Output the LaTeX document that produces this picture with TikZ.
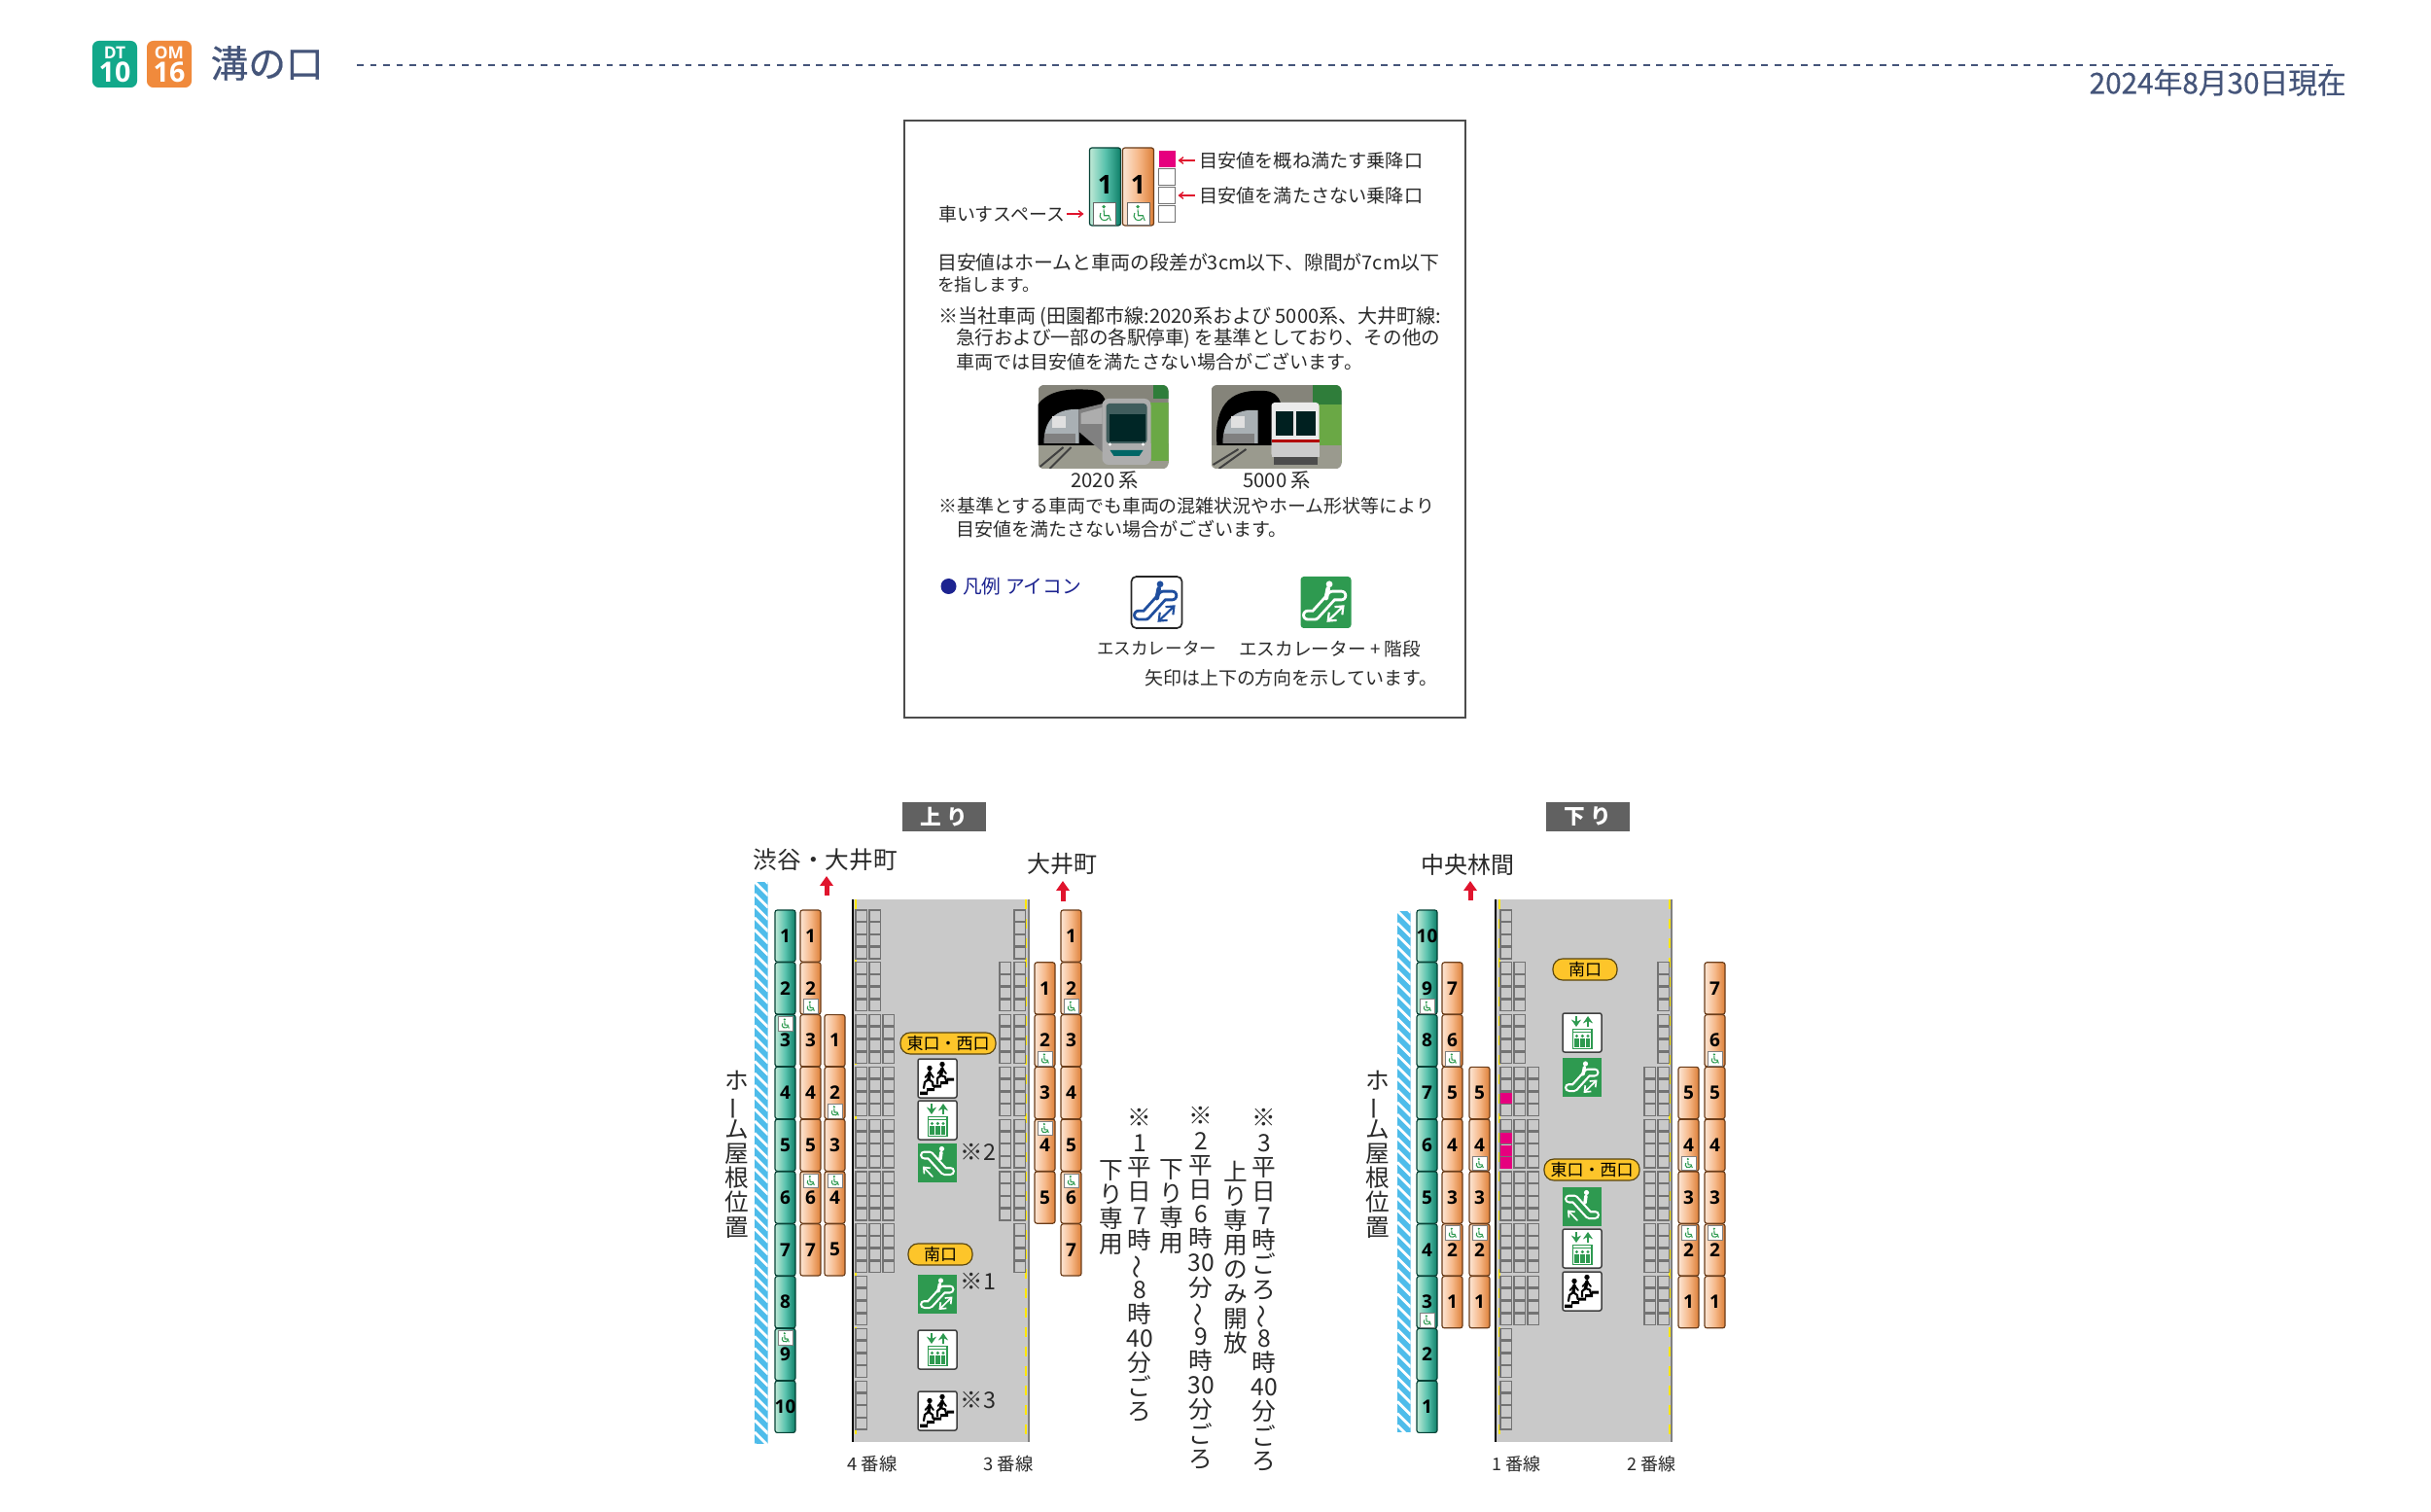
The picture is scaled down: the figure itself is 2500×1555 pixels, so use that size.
\documentclass[tikz,border=0pt]{standalone}
\usepackage{fontspec}
\setmainfont{Noto Sans CJK JP}
\newfontfamily\numfont{Open Sans}
\newfontfamily\medfont{Noto Sans CJK JP}[FakeBold=0.5]
\usetikzlibrary{arrows.meta}
\definecolor{hdr}{HTML}{45557A}
\definecolor{tk}{HTML}{2A2A2A}
\definecolor{dtg}{HTML}{12A88A}
\definecolor{omo}{HTML}{F08A3C}
\definecolor{grn}{HTML}{2E9A50}
\definecolor{blu}{HTML}{1F4E9E}
\definecolor{navy}{HTML}{1C2390}
\definecolor{rd}{HTML}{E0142D}
\definecolor{pnk}{HTML}{E6007E}
\definecolor{plat}{HTML}{C9C9C9}
\definecolor{band}{HTML}{4EBCEA}
\definecolor{ylw}{HTML}{FDC52A}
\definecolor{wallc}{HTML}{85847A}
\definecolor{gndc}{HTML}{9A9A8E}
\definecolor{leaf}{HTML}{6AA845}
\definecolor{leafd}{HTML}{2F7D3A}
\definecolor{silv}{HTML}{A9B0B4}
\newcommand\wfit[2]{\resizebox{\dimexpr #1pt*3/10\relax}{!}{#2}}
\newcommand\tld{\makebox[1em]{\smash{\rotatebox[origin=c]{90}{～}}}}
\newcommand\vbar{\makebox[1em]{\smash{\rotatebox[origin=c]{90}{ー}}}}
\tikzset{
  x=0.3pt,y=-0.3pt,
  txt/.style={inner sep=0,text=tk,font=\fontsize{6pt}{7pt}\selectfont},
  vtxt/.style={inner sep=0,text=tk,align=center,anchor=north,font=\fontsize{7.4pt}{7.55pt}\selectfont},
  carnum/.style={inner sep=0,text=black,font=\numfont\bfseries\fontsize{5.7pt}{6pt}\selectfont},
  gcar/.style={left color=green!30!teal!25!white,right color=dtg!75!black,middle color=dtg!70!white,draw=black!60!dtg,line width=0.35pt,rounded corners=0.7pt},
  ocar/.style={left color=omo!22!white,right color=omo!92!black,middle color=omo!60!white,draw=black!55!omo,line width=0.35pt,rounded corners=0.7pt},
  door/.style={draw=black!55,fill=plat,line width=0.4pt},
  pill/.style={draw=black!65!ylw,fill=ylw,line width=0.35pt,rounded corners=3pt,inner sep=0,text=black,font=\fontsize{5.1pt}{6pt}\selectfont},
  dirbox/.style={fill=black!62,text=white,inner sep=0,minimum width=25.8pt,minimum height=9pt,font=\bfseries\fontsize{6.5pt}{7pt}\selectfont},
  redup/.style={draw=rd,line width=1.5pt,-{Triangle[length=3pt,width=4pt]}},
  redthin/.style={draw=rd,line width=0.4pt,-{Straight Barb[length=1.3pt,width=2pt]}},
  iconbox/.style={fill=white,draw=black!75,line width=0.45pt,rounded corners=0.6pt},
  smallnote/.style={inner sep=0,text=tk,font=\fontsize{7pt}{8pt}\selectfont},
}
% wheelchair symbol, local 14x14
\newcommand\wcsym[3]{\begin{scope}[shift={(#1,#2)},xscale=#3,yscale=#3]
  \fill[grn] (6.3,2.6) circle[radius=1.2];
  \draw[grn,line width=0.32pt] (6.3,4.3)--(6.6,8.3)--(9.6,8.3)--(10.8,11.6);
  \draw[grn,line width=0.32pt] (4.3,6.6) arc[start angle=215,end angle=30,radius=3];
\end{scope}}
\newcommand\carcol[3]{\foreach \rw/\nm/\wc in {#3}{
  \shadedraw[#1] (#2,{936+53.8*\rw}) rectangle ++(21,53.2);
  \node[carnum] at ({#2+10.5},{936+53.8*\rw+26.5}) {\nm};
  \if\wc b
    \fill[white] ({#2+3},{936+53.8*\rw+38}) rectangle ++(15,14.5);
    \draw[black!50,line width=0.2pt] ({#2+3},{936+53.8*\rw+38}) rectangle ++(15,14.5);
    \wcsym{#2+3.5}{936+53.8*\rw+38.3}{1}
  \fi
  \if\wc t
    \fill[white] ({#2+3},{936+53.8*\rw+2}) rectangle ++(15,14.5);
    \draw[black!50,line width=0.2pt] ({#2+3},{936+53.8*\rw+2}) rectangle ++(15,14.5);
    \wcsym{#2+3.5}{936+53.8*\rw+2.3}{1}
  \fi
}}
\newcommand\doorcol[3]{\foreach \rw in {#2,...,#3}{\foreach \jj in {0,...,3}{
  \draw[door] (#1,{936+53.8*\rw+12.8*\jj}) rectangle ++(11.5,11.5);}}}
\newcommand\hatch[3]{\begin{scope}
  \clip (#1,#2) rectangle ++(13.5,#3);
  \fill[band] (#1,#2) rectangle ++(13.5,#3);
  \foreach \k in {-1,...,48}{\draw[white,line width=0.85pt] (#1,{#2+12.3*\k}) -- ++(14,14);}
\end{scope}}
\newcommand\stairsicon[2]{\begin{scope}[shift={(#1,#2)}]
  \draw[iconbox] (0,0) rectangle (40,40);
  \fill[black] (2,37)--(2,33.5)--(9,33.5)--(9,30)--(16,30)--(16,26.5)--(23,26.5)--(23,23)--(30,23)--(30,19.5)--(37,19.5)--(37,22.5)--(31,22.5)--(31,26)--(24,26)--(24,29.5)--(17,29.5)--(17,33)--(10,33)--(10,37)--cycle;
  \begin{scope}[line cap=round,line join=round]
  \fill (12,9.5) circle[radius=2.7];
  \draw[line width=1pt] (12,13.5)--(11,21);
  \draw[line width=0.65pt] (11,21)--(7,24)--(6,30) (11,21)--(15,24)--(15.5,28);
  \draw[line width=0.55pt] (12,14)--(7.5,19) (12,14)--(16,19);
  \fill (25,5.5) circle[radius=2.7];
  \draw[line width=1pt] (25,9.5)--(23.5,17);
  \draw[line width=0.65pt] (23.5,17)--(20,20)--(20,25.5) (23.5,17)--(28,18.5)--(29,22.5);
  \draw[line width=0.55pt] (25,10)--(20.5,15) (25,10)--(29,15);
  \end{scope}
\end{scope}}
\newcommand\elevicon[2]{\begin{scope}[shift={(#1,#2)}]
  \draw[iconbox] (0,0) rectangle (40,40);
  \draw[grn,line width=0.65pt,-{Stealth[length=2.2pt,width=3pt]}] (14,3)--(14,14);
  \draw[grn,line width=0.65pt,-{Stealth[length=2.2pt,width=3pt]}] (26,14)--(26,3);
  \draw[grn,line width=0.5pt] (10.5,16.5) rectangle (30,36.5);
  \draw[grn,line width=0.3pt] (10.5,19.5)--(30,19.5);
  \foreach \px in {14.5,20.3,26}{
    \fill[grn] (\px,23.5) circle[radius=1.7];
    \fill[grn] ({\px-2.3},25.5) rectangle ({\px+2.3},34.5);
  }
\end{scope}}
% #1 x #2 y #3 fg #4 inner #5 scale
\newcommand\escup[5]{\begin{scope}[shift={(#1,#2)},xscale=#5,yscale=#5,line cap=round,line join=round]
  \draw[#3,line width=2.7pt*#5] (6.5,30.5)--(12,30.5)--(26,15)--(33,15);
  \draw[#4,line width=1.35pt*#5] (6.5,30.5)--(12,30.5)--(26,15)--(33,15);
  \fill[#3] (23.5,6) circle[radius=2.6];
  \draw[#3,line width=1.05pt*#5] (22.5,9.5)--(21,17);
  \draw[#3,line width=0.5pt*#5,{Straight Barb[length=1.6pt*#5,width=2.6pt*#5]}-{Straight Barb[length=1.6pt*#5,width=2.6pt*#5]}] (21.5,36)--(35.5,22.5);
\end{scope}}
\newcommand\escdown[2]{\begin{scope}[shift={(#1,#2)},line cap=round,line join=round]
  \fill[grn] (0,0) rectangle (40,40);
  \draw[white,line width=2.7pt] (6.5,12)--(12,12)--(27,28.5)--(33.5,28.5);
  \draw[grn,line width=1.35pt] (6.5,12)--(12,12)--(27,28.5)--(33.5,28.5);
  \fill[white] (24.5,5.5) circle[radius=2.6];
  \draw[white,line width=1.05pt] (24,9)--(23,16);
  \draw[white,line width=0.5pt,-{Straight Barb[length=1.6pt,width=2.6pt]}] (15,34)--(5,23.5);
\end{scope}}
\newcommand\escgreen[2]{\fill[grn] (#1,#2) rectangle ++(40,40); \escup{#1}{#2}{white}{grn}{1}}
\newcommand\photoA[1]{\begin{scope}[shift={(#1,396)}]
  \begin{scope}
  \clip[rounded corners=1.8pt] (0,0) rectangle (134,86);
  \fill[wallc] (0,0) rectangle (134,86);
  \fill[leafd] (118,0) rectangle (134,14);
  \fill[leaf] (113,18) rectangle (134,80);
  \fill[gndc] (0,60) rectangle (134,86);
  \fill[leaf] (116,60) rectangle (134,78);
  \fill[black] (0,62) -- (0,20) .. controls (10,6) and (30,3) .. (55,5) .. controls (68,6) and (74,14) .. (73,62) -- cycle;
  \fill[silv] (6,60) .. controls (6,34) and (20,24) .. (42,25) -- (42,60) -- cycle;
  \fill[black!12] (14,32) rectangle (28,44);
  \fill[black!50] (6,50) rectangle (38,60);
  \fill[black!50] (42,25)--(67,19)--(70,72)--(42,48)--cycle;
  \fill[black!32] (44,29)--(66,23)--(66,40)--(44,40)--cycle;
  \draw[black!75,line width=0.6pt] (2,84)--(26,64) (12,86)--(34,64);
  \fill[black!32,rounded corners=2pt] (66,14) rectangle (116,82);
  \fill[black!55!teal!50!gray,rounded corners=1pt] (70,19) rectangle (112,60);
  \fill[black!70!teal] (73,30) rectangle (110,58);
  \fill[teal!80!black] (74,67)--(108,67)--(104,73)--(78,73)--cycle;
  \fill[white] (74,61) circle[radius=1.7] (108,61) circle[radius=1.7];
  \end{scope}
\end{scope}}
\newcommand\photoB[1]{\begin{scope}[shift={(#1,396)}]
  \begin{scope}
  \clip[rounded corners=1.8pt] (0,0) rectangle (134,86);
  \fill[wallc] (0,0) rectangle (134,86);
  \fill[leafd] (104,0) rectangle (134,20);
  \fill[leaf] (108,20) rectangle (134,80);
  \fill[gndc] (0,62) rectangle (134,86);
  \fill[black] (6,62) .. controls (2,15) and (25,4) .. (55,6) .. controls (72,7) and (76,20) .. (74,62) -- cycle;
  \fill[silv] (12,60) .. controls (12,34) and (26,24) .. (48,26) -- (48,60) -- cycle;
  \fill[black!12] (20,32) rectangle (34,44);
  \fill[black!50] (12,50) rectangle (44,60);
  \draw[black!75,line width=0.6pt] (2,82)--(28,66) (8,86)--(36,66);
  \fill[black!8,rounded corners=1pt] (62,18) rectangle (111,74);
  \fill[black!75!teal] (66,27) rectangle (107,52);
  \fill[black!10] (84,27) rectangle (87,52);
  \fill[red!70!black] (62,56) rectangle (111,59);
  \fill[black!70] (64,74) rectangle (109,82);
  \fill[black!20] (62,59) rectangle (111,74);
  \end{scope}
\end{scope}}
\begin{document}
\begin{tikzpicture}
\fill[white] (0,0) rectangle (2500,1555);
\useasboundingbox (0,0) rectangle (2500,1555);
% ---------- header
\fill[dtg,rounded corners=2pt] (95,42) rectangle (141,90);
\fill[omo,rounded corners=2pt] (151,42) rectangle (197,90);
\node[inner sep=0,text=white,font=\numfont\bfseries\fontsize{5.2pt}{6pt}\selectfont] (dt) at (118,54) {DT};
\node[inner sep=0,text=white,font=\numfont\bfseries\fontsize{8.6pt}{9pt}\selectfont] (dtn) at (118,74) {10};
\node[inner sep=0,text=white,font=\numfont\bfseries\fontsize{5.2pt}{6pt}\selectfont] (om) at (174,54) {OM};
\node[inner sep=0,text=white,font=\numfont\bfseries\fontsize{8.6pt}{9pt}\selectfont] (omn) at (174,74) {16};
\node[inner sep=0,text=hdr,font=\medfont\fontsize{11.6pt}{12pt}\selectfont,anchor=west] (title) at (216,65) {溝の口};
\coordinate (dashA) at (367,67);\coordinate (dashB) at (2400,67);
\draw[hdr,line width=0.85pt,dash pattern=on 2pt off 2.05pt] (dashA)--(dashB);
\node[inner sep=0,text=hdr,anchor=west] (date) at (2148,85) {\wfit{264}{\medfont 2024年8月30日現在}};
% ---------- legend
\draw[black!70,line width=0.5pt] (930,124) rectangle (1507,738);
\begin{scope}[shift={(-3.5,0)}]
\shadedraw[gcar] (1124,152) rectangle (1156,232);
\shadedraw[ocar] (1158,152) rectangle (1190,232);
\node[carnum,font=\numfont\bfseries\fontsize{8pt}{9pt}\selectfont] (lg1) at (1140,190) {1};
\node[carnum,font=\numfont\bfseries\fontsize{8pt}{9pt}\selectfont] (lo1) at (1174,190) {1};
\fill[white] (1128,208) rectangle (1151,231); \draw[black!60,line width=0.25pt] (1128,208) rectangle (1151,231);
\fill[white] (1163,208) rectangle (1186,231); \draw[black!60,line width=0.25pt] (1163,208) rectangle (1186,231);
\wcsym{1128.5}{208.5}{1.6}\wcsym{1163.5}{208.5}{1.6}
\fill[pnk] (1195,155) rectangle (1212,172);
\foreach \yy in {174,193,212}{\draw[black!55,line width=0.3pt] (1195,\yy) rectangle ++(17,17);}
\coordinate (ra1) at (1232,165);\coordinate (rb1) at (1215,165);
\coordinate (ra2) at (1232,201);\coordinate (rb2) at (1215,201);
\coordinate (ra3) at (1100,220);\coordinate (rb3) at (1118,220);
\draw[redthin] (ra1)--(rb1);\draw[redthin] (ra2)--(rb2);\draw[redthin] (ra3)--(rb3);
\node[txt,anchor=west] (l1) at (1236,165) {\wfit{230}{目安値を概ね満たす乗降口}};
\node[txt,anchor=west] (l2) at (1236,201) {\wfit{230}{目安値を満たさない乗降口}};
\node[txt,anchor=west] (l3) at (968,220) {\wfit{130}{車いすスペース}};
\node[txt,anchor=west] (p1) at (967,270) {\wfit{516}{目安値はホームと車両の段差が3cm以下、隙間が7cm以下}};
\node[txt,anchor=west] (p2) at (967,293) {\wfit{105}{を指します。}};
\node[txt,anchor=west] (p3) at (968,326) {\wfit{517}{※当社車両 (田園都市線:2020系および 5000系、大井町線:}};
\node[txt,anchor=west] (p4) at (986,348) {\wfit{498}{急行および一部の各駅停車) を基準としており、その他の}};
\node[txt,anchor=west] (p5) at (986,372) {\wfit{418}{車両では目安値を満たさない場合がございます。}};
\photoA{1071}\photoB{1249}
\node[txt,anchor=west] (c1) at (1104,494) {\wfit{70}{2020 系}};
\node[txt,anchor=west] (c2) at (1281,494) {\wfit{70}{5000 系}};
\node[txt,anchor=west] (p6) at (968,520) {\wfit{510}{※基準とする車両でも車両の混雑状況やホーム形状等により}};
\node[txt,anchor=west] (p7) at (986,544) {\wfit{340}{目安値を満たさない場合がございます。}};
\fill[navy] (979,603) circle[radius=8];
\node[txt,anchor=west,text=navy] (lgd) at (993,603) {\wfit{122}{凡例 アイコン}};
\draw[fill=white,draw=black!85,line width=0.5pt,rounded corners=1.5pt] (1167,593) rectangle (1219,646);
\escup{1166}{593}{blu}{white}{1.3}
\fill[grn,rounded corners=1pt] (1341,593) rectangle (1393,646);
\escup{1340}{593}{white}{grn}{1.3}
\node[txt,anchor=west] (e1) at (1131,667) {\wfit{123}{エスカレーター}};
\node[txt,anchor=west] (e2) at (1277,667) {\wfit{187}{エスカレーター + 階段}};
\node[txt,anchor=west] (e3) at (1180,697) {\wfit{301}{矢印は上下の方向を示しています。}};
\end{scope}
% ---------- left platform (up)
\node[dirbox] (up) at (971,840) {上 り};
\node[txt,anchor=west] (d1) at (774,884) {\wfit{148}{渋谷・大井町}};
\node[txt,anchor=west] (d2) at (1056,889) {\wfit{72}{大井町}};
\coordinate (au1) at (850,921);\coordinate (au2) at (850,901);
\coordinate (au3) at (1093,927);\coordinate (au4) at (1093,906);
\draw[redup] (au1)--(au2);\draw[redup] (au3)--(au4);
\hatch{776}{907}{578}
\fill[plat] (877,925) rectangle (1058,1483);
\draw[black,line width=0.7pt] (877,925)--(877,1483);
\draw[black!50,line width=0.6pt] (1058,925)--(1058,1483);
\draw[yellow!90!orange,line width=0.35pt,dashed] (880,925)--(880,1483);
\draw[yellow!90!orange,line width=0.35pt,dashed] (1055,925)--(1055,1483);
\doorcol{880}{0}{9}\doorcol{894}{0}{6}\doorcol{908}{2}{6}
\doorcol{1028}{1}{5}\doorcol{1043}{0}{6}
\carcol{gcar}{797}{0/1/n,1/2/n,2/3/t,3/4/n,4/5/n,5/6/n,6/7/n,7/8/n,8/9/t,9/10/n}
\carcol{ocar}{823}{0/1/n,1/2/b,2/3/n,3/4/n,4/5/n,5/6/t,6/7/n}
\carcol{ocar}{848}{2/1/n,3/2/b,4/3/n,5/4/t,6/5/n}
\carcol{ocar}{1064}{1/1/n,2/2/b,3/3/n,4/4/t,5/5/n}
\carcol{ocar}{1091}{0/1/n,1/2/b,2/3/n,3/4/n,4/5/n,5/6/t,6/7/n}
\node[pill,minimum width=29.4pt,minimum height=6.6pt] (ew1) at (975,1073) {東口・西口};
\stairsicon{944}{1089}
\elevicon{944}{1132}
\escdown{944}{1176}
\node[smallnote,anchor=west] (n2) at (987,1185) {※2};
\node[pill,minimum width=19.8pt,minimum height=6.6pt] (s1) at (967,1290) {南口};
\escgreen{944}{1311}
\node[smallnote,anchor=west] (n1) at (987,1318) {※1};
\elevicon{944}{1368}
\stairsicon{944}{1431}
\node[smallnote,anchor=west] (n3) at (987,1440) {※3};
\node[txt,anchor=west] (t4) at (871,1506) {\wfit{51}{4 番線}};
\node[txt,anchor=west] (t3) at (1011,1506) {\wfit{51}{3 番線}};
\node[vtxt] (v1) at (758,1100) {ホ\\\vbar\\ム\\屋\\根\\位\\置};
% ---------- notes
\node[vtxt] (a1) at (1172,1140) {※\\1\\平\\日\\7\\時\\\tld\\8\\時\\40\\分\\ご\\ろ};
\node[vtxt] (a2) at (1143,1193) {下\\り\\専\\用};
\node[vtxt] (b1) at (1235,1138) {※\\2\\平\\日\\6\\時\\30\\分\\\tld\\9\\時\\30\\分\\ご\\ろ};
\node[vtxt] (b2) at (1205,1192) {下\\り\\専\\用};
\node[vtxt] (c3) at (1300,1140) {※\\3\\平\\日\\7\\時\\ご\\ろ\\\tld\\8\\時\\40\\分\\ご\\ろ};
\node[vtxt] (c4) at (1271,1193) {上\\り\\専\\用\\の\\み\\開\\放};
% ---------- right platform (down)
\node[dirbox] (dn) at (1633,840) {下 り};
\node[txt,anchor=west] (d3) at (1461,889) {\wfit{96}{中央林間}};
\coordinate (au5) at (1512,926);\coordinate (au6) at (1512,906);
\draw[redup] (au5)--(au6);
\hatch{1437}{937}{536}
\fill[plat] (1538,925) rectangle (1719,1483);
\draw[black,line width=0.7pt] (1538,925)--(1538,1483);
\draw[black!50,line width=0.6pt] (1719,925)--(1719,1483);
\draw[yellow!90!orange,line width=0.35pt,dashed] (1542,925)--(1542,1483);
\draw[yellow!90!orange,line width=0.35pt,dashed] (1717,925)--(1717,1483);
\doorcol{1543}{0}{9}\doorcol{1557}{1}{7}\doorcol{1571}{3}{7}
\doorcol{1691}{3}{7}\doorcol{1705}{1}{7}
\foreach \py in {1123.6,1164.8,1177.6,1190.4}{\fill[pnk] (1543,\py) rectangle ++(11.5,11.5);}
\carcol{gcar}{1457}{0/10/n,1/9/b,2/8/n,3/7/n,4/6/n,5/5/n,6/4/n,7/3/b,8/2/n,9/1/n}
\carcol{ocar}{1483}{1/7/n,2/6/b,3/5/n,4/4/n,5/3/n,6/2/t,7/1/n}
\carcol{ocar}{1511}{3/5/n,4/4/b,5/3/n,6/2/t,7/1/n}
\carcol{ocar}{1726}{3/5/n,4/4/b,5/3/n,6/2/t,7/1/n}
\carcol{ocar}{1753}{1/7/n,2/6/b,3/5/n,4/4/n,5/3/n,6/2/t,7/1/n}
\node[pill,minimum width=19.8pt,minimum height=6.6pt] (s2) at (1630,997) {南口};
\elevicon{1607}{1042}
\escgreen{1607}{1088}
\node[pill,minimum width=29.4pt,minimum height=6.6pt] (ew2) at (1637,1203) {東口・西口};
\escdown{1607}{1221}
\elevicon{1607}{1264}
\stairsicon{1607}{1308}
\node[txt,anchor=west] (t1) at (1534,1506) {\wfit{50}{1 番線}};
\node[txt,anchor=west] (t2) at (1673,1506) {\wfit{50}{2 番線}};
\node[vtxt] (v2) at (1417,1100) {ホ\\\vbar\\ム\\屋\\根\\位\\置};
\end{tikzpicture}
\end{document}
